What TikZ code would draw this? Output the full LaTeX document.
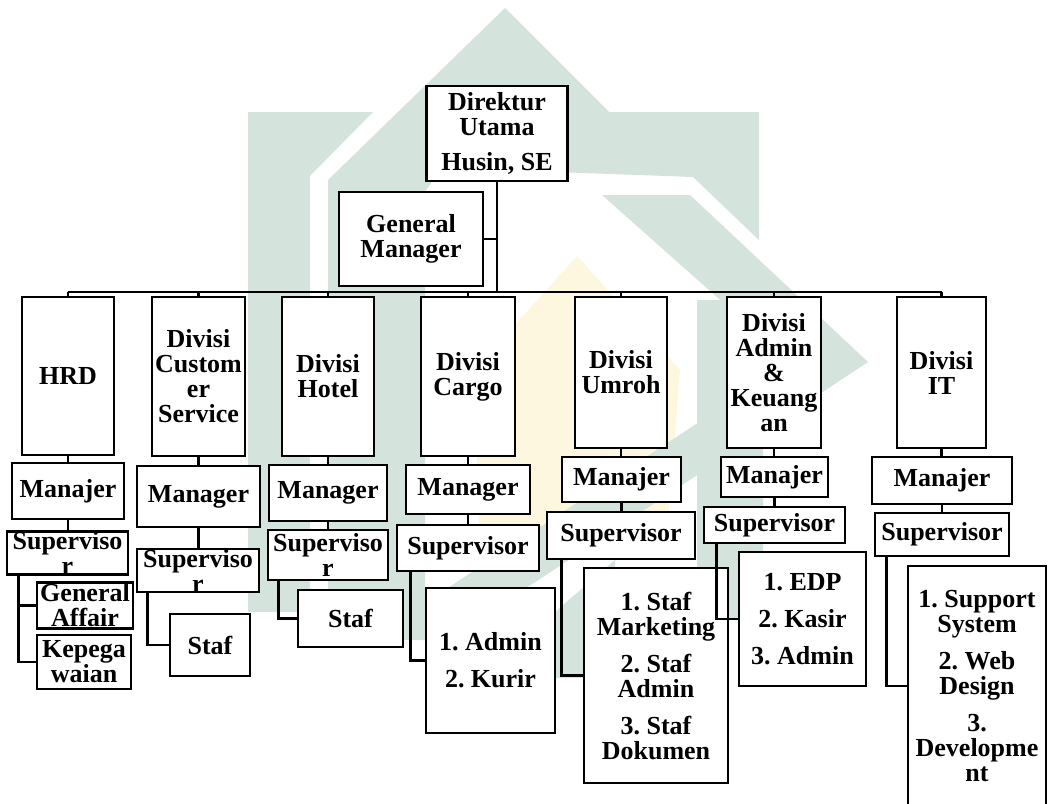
\documentclass[tikz,border=0pt]{standalone}
\usepackage{fontspec}
\setmainfont{Liberation Serif}
\definecolor{wmteal}{HTML}{D4E3DB}
\definecolor{wmgold}{HTML}{FCF7DE}
\begin{document}
\begin{tikzpicture}[x=1pt, y=-1pt, line width=2.8pt,
  box/.style={draw, fill=white, align=center, inner sep=0pt,
    font=\bfseries\frenchspacing\fontsize{26}{25}\selectfont},
  sz/.style 2 args={minimum width=#1pt, minimum height=#2pt}]
\useasboundingbox (0,0) rectangle (1051,803);

% faint logo behind the chart
\fill[wmgold] (577,256) -- (680,370) -- (665,560) -- (480,560) -- (474,370) -- cycle;
\fill[wmteal] (248,112) -- (373,112) -- (310,176) -- (310,612) -- (248,612) -- cycle;
\fill[wmteal] (328,180) -- (505,8) -- (609,112) -- (759,112) -- (759,240) -- (693,177)
  -- (500,170) -- (440,170) -- (425,192) -- (425,640) -- (328,640) -- cycle;
\fill[wmteal] (602,195) -- (690,195) -- (868,362) -- (425,655) -- (425,603) -- (790,362) -- cycle;
\fill[wmteal] (697,300) -- (763,300) -- (763,555) -- (739,555) -- (739,620) -- (697,620) -- cycle;
\fill[wmteal] (555,612) -- (615,560) -- (615,678) -- (555,678) -- cycle;

% top
\node[box, sz={141}{95}] (dir) at (497,133.5) {Direktur\\Utama\\[10pt]Husin, SE};
\node[box, sz={144}{94}] (gm) at (411,239) {General\\Manager};
\coordinate (bus) at (497,292);

% divisions
\node[box, sz={92}{158}] (hrd) at (68,376) {HRD};
\node[box, sz={93}{159}] (cs) at (198.5,376.5) {Divisi\\Custom\\er\\Service};
\node[box, sz={92}{159}] (hot) at (328,376.5) {Divisi\\Hotel};
\node[box, sz={94}{159}] (car) at (468,376.5) {Divisi\\Cargo};
\node[box, sz={92}{151}] (umr) at (621,372.5) {Divisi\\Umroh};
\node[box, sz={94}{151}] (adm) at (774,372.5) {Divisi\\Admin\\\&\\Keuang\\an};
\node[box, sz={89}{151}] (it) at (941.5,372.5) {Divisi\\IT};

% managers
\node[box, sz={112}{56}] (hrdm) at (68,491) {Manajer};
\node[box, sz={123}{61}] (csm) at (198.5,496.5) {Manager};
\node[box, sz={118}{56}] (hotm) at (328,493) {Manager};
\node[box, sz={124}{49}] (carm) at (468,489.5) {Manager};
\node[box, sz={119}{45}] (umrm) at (621.5,479.5) {Manajer};
\node[box, sz={107}{40}] (admm) at (774.5,477) {Manajer};
\node[box, sz={140}{47}] (itm) at (942,480.5) {Manajer};

% supervisors
\node[box, sz={121}{43}] (hrds) at (67.5,553) {Superviso\\r};
\node[box, sz={122}{43}] (css) at (198,570.5) {Superviso\\r};
\node[box, sz={120}{50}] (hots) at (328,555) {Superviso\\r};
\node[box, sz={142}{46}] (cars) at (468,548) {Supervisor};
\node[box, sz={148}{47}] (umrs) at (621,535.5) {Supervisor};
\node[box, sz={141}{36}] (adms) at (774.5,525) {Supervisor};
\node[box, sz={134}{43}] (its) at (942,534.5) {Supervisor};

% staff
\node[box, sz={96}{46}] (hrdga) at (85,605.5) {General\\Affair};
\node[box, sz={94}{54}] (hrdkp) at (84,662) {Kepega\\waian};
\node[box, sz={80}{62}] (csst) at (210,645) {Staf};
\node[box, sz={105}{57}] (hotst) at (350.5,618.5) {Staf};
\node[box, sz={129}{145}] (carst) at (490.5,660.5) {1. Admin\\[12pt]2. Kurir};
\node[box, sz={144}{215}] (umrst) at (656,675.5)
  {1. Staf\\Marketing\\[12pt]2. Staf\\Admin\\[12pt]3. Staf\\Dokumen};
\node[box, sz={127}{134}] (admst) at (802.5,619) {1. EDP\\[12pt]2. Kasir\\[12pt]3. Admin};
\node[box, sz={138}{240}] (itst) at (977,686)
  {1. Support\\System\\[12pt]2. Web\\Design\\[12pt]3.\\Developme\\nt};

% lines
\draw (dir.south) -- (bus);
\draw (gm.east) -- (gm.east -| bus);
\draw (hrd.north |- bus) -- (it.north |- bus);
\draw (hrd.north |- bus) -- (hrd.north) (hrd.south) -- (hrd.south |- hrdm.north) (hrdm.south) -- (hrdm.south |- hrds.north);
\draw (cs.north |- bus) -- (cs.north) (cs.south) -- (cs.south |- csm.north) (csm.south) -- (csm.south |- css.north);
\draw (hot.north |- bus) -- (hot.north) (hot.south) -- (hot.south |- hotm.north) (hotm.south) -- (hotm.south |- hots.north);
\draw (car.north |- bus) -- (car.north) (car.south) -- (car.south |- carm.north) (carm.south) -- (carm.south |- cars.north);
\draw (umr.north |- bus) -- (umr.north) (umr.south) -- (umr.south |- umrm.north) (umrm.south) -- (umrm.south |- umrs.north);
\draw (adm.north |- bus) -- (adm.north) (adm.south) -- (adm.south |- admm.north) (admm.south) -- (admm.south |- adms.north);
\draw (it.north |- bus) -- (it.north) (it.south) -- (it.south |- itm.north) (itm.south) -- (itm.south |- its.north);

\draw ([xshift=13pt]hrds.south west) |- (hrdga.west) ([xshift=13pt]hrds.south west) |- (hrdkp.west);
\draw ([xshift=12pt]css.south west) |- (csst.west);
\draw ([xshift=12pt]hots.south west) |- (hotst.west);
\draw ([xshift=15pt]cars.south west) |- (carst.west);
\draw ([xshift=16pt]umrs.south west) |- (umrst.west);
\draw ([xshift=14pt]adms.south west) |- (admst.west);
\draw ([xshift=13pt]its.south west) |- (itst.west);
\end{tikzpicture}
\end{document}
